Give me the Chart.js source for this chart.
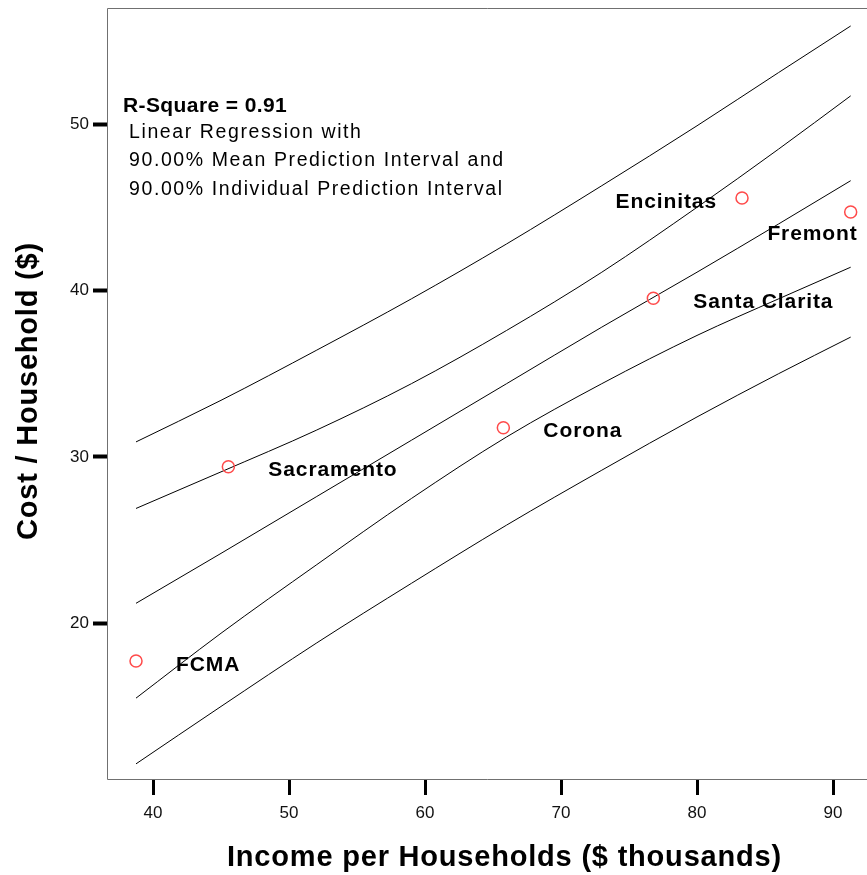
<!DOCTYPE html>
<html>
<head>
<meta charset="utf-8">
<script src="https://cdn.jsdelivr.net/npm/chart.js@4.4.1/dist/chart.umd.min.js"></script>
<style>
  html, body { margin: 0; padding: 0; background: #fff; }
  #wrap { width: 867px; height: 875px; }
</style>
</head>
<body>
<div id="wrap"><canvas id="chart-cost" width="867" height="875"></canvas></div>
<script>
/*
  ==================================================
  ====================== DATA ======================
  ==================================================
*/

let cities = ['FCMA', 'Sacramento', 'Corona', 'Santa Clarita', 'Encinitas', 'Fremont'];
let income = [38.75, 45.54, 65.76, 76.79, 83.31, 91.30];
let cost = [17.73, 29.41, 31.75, 39.53, 45.56, 44.72];

let lineX = [38.75, 45, 52, 59, 66, 73, 80, 86, 91.3];
let upperIndividual = [30.9, 33.4, 36.4, 39.5, 42.8, 46.3, 49.9, 53.1, 55.9];
let upperMean = [26.9, 29.1, 31.6, 34.4, 37.6, 41.1, 45.0, 48.5, 51.7];
let fitLine = [21.2, 24.2, 27.6, 31.0, 34.4, 37.8, 41.1, 44.0, 46.6];
let lowerMean = [15.5, 19.4, 23.5, 27.5, 31.2, 34.4, 37.3, 39.5, 41.4];
let lowerIndividual = [11.55, 15.0, 18.8, 22.4, 25.9, 29.2, 32.4, 35.0, 37.2];

let xTicks = [40, 50, 60, 70, 80, 90];
let yTicks = [20, 30, 40, 50];

let xTitle = 'Income per Households ($ thousands)';
let yTitle = 'Cost / Household ($)';
let noteBold = 'R-Square = 0.91';
let noteLines = [
  'Linear Regression with',
  '90.00% Mean Prediction Interval and',
  '90.00% Individual Prediction Interval'
];

/*
  ==================================================
  ===================== HELPERS =====================
  ==================================================
*/

let toXY = (xs, ys) => xs.map((x, i) => ({ x, y: ys[i] }));

let bandLine = (values) => ({
  type: 'line',
  data: toXY(lineX, values),
  borderColor: '#000',
  borderWidth: 1,
  pointRadius: 0,
  fill: false,
  cubicInterpolationMode: 'monotone'
});

let noPad = s => {
  s.paddingTop = 0;
  s.paddingBottom = 0;
  s.paddingLeft = 0;
  s.paddingRight = 0;
};

// label placement: dx, dy (baseline) relative to the point, alignment
let labelPlace = [
  [40, 10, 'left'],
  [40, 9.5, 'left'],
  [40, 9, 'left'],
  [40, 10, 'left'],
  [-25, 10, 'right'],
  [7, 28, 'right']
];

/*
  ==================================================
  ===================== PLUGIN =====================
  ==================================================
*/

let decorPlugin = {
  id: 'decor',
  afterDatasetsDraw(chart) {
    let { ctx, chartArea: a } = chart;
    let xs = chart.scales.x, ys = chart.scales.y;

    ctx.save();

    /* frame */
    ctx.strokeStyle = '#707070';
    ctx.lineWidth = 1;
    ctx.beginPath();
    ctx.moveTo(a.right + 1, a.top + 0.5);
    ctx.lineTo(a.left - 0.5, a.top + 0.5);
    ctx.lineTo(a.left - 0.5, a.bottom + 0.5);
    ctx.lineTo(a.right + 1, a.bottom + 0.5);
    ctx.stroke();

    /* point labels */
    ctx.fillStyle = '#000';
    ctx.font = 'bold 21px "Liberation Sans", Arial, sans-serif';
    ctx.letterSpacing = '0.9px';
    ctx.textBaseline = 'alphabetic';
    cities.forEach((name, i) => {
      let [dx, dy, align] = labelPlace[i];
      let px = xs.getPixelForValue(income[i]);
      let py = ys.getPixelForValue(cost[i]);
      ctx.textAlign = align;
      ctx.fillText(name, px + dx, py + dy);
    });

    /* note */
    ctx.textAlign = 'left';
    ctx.font = 'bold 21px "Liberation Sans", Arial, sans-serif';
    ctx.letterSpacing = '0.4px';
    ctx.fillText(noteBold, 123, 112);
    ctx.font = '19.5px "Liberation Sans", Arial, sans-serif';
    ctx.letterSpacing = '1.6px';
    noteLines.forEach((t, i) => ctx.fillText(t, 129, 137.5 + i * 28.5));

    /* axis titles */
    ctx.font = 'bold 29px "Liberation Sans", Arial, sans-serif';
    ctx.letterSpacing = '0.8px';
    ctx.fillText(xTitle, 227, 866);

    ctx.translate(37, 540);
    ctx.rotate(-Math.PI / 2);
    ctx.fillText(yTitle, 0, 0);

    ctx.restore();
  }
};

/*
  ==================================================
  ====================== CHART ======================
  ==================================================
*/

let ctxCost = document.getElementById('chart-cost').getContext('2d');

let chartCost = new Chart(ctxCost, {
  type: 'scatter',
  data: {
    datasets: [
      {
        type: 'scatter',
        data: toXY(income, cost),
        pointStyle: 'circle',
        pointRadius: 6,
        pointHoverRadius: 6,
        borderColor: '#ff4a4a',
        backgroundColor: 'rgba(0,0,0,0)',
        borderWidth: 1.5
      },
      bandLine(upperIndividual),
      bandLine(upperMean),
      bandLine(fitLine),
      bandLine(lowerMean),
      bandLine(lowerIndividual)
    ]
  },
  options: {
    responsive: false,
    animation: false,
    events: [],
    layout: { autoPadding: false, padding: { top: 8, left: 0, right: 0, bottom: 0 } },
    plugins: {
      legend: { display: false },
      tooltip: { enabled: false }
    },
    scales: {
      x: {
        type: 'linear',
        min: 36.69,
        max: 92.5,
        afterBuildTicks: s => { s.ticks = xTicks.map(v => ({ value: v })); },
        afterFit: s => { s.height = 96; noPad(s); },
        border: { display: false },
        grid: {
          drawOnChartArea: false,
          drawTicks: true,
          tickLength: 16,
          tickWidth: 3,
          tickColor: '#000'
        },
        ticks: {
          color: '#111',
          padding: 8,
          maxRotation: 0,
          font: { family: '"Liberation Sans", Arial, sans-serif', size: 17 }
        }
      },
      y: {
        type: 'linear',
        min: 10.64,
        max: 56.98,
        afterBuildTicks: s => { s.ticks = yTicks.map(v => ({ value: v })); },
        afterFit: s => { s.width = 108; noPad(s); },
        border: { display: false },
        grid: {
          drawOnChartArea: false,
          drawTicks: true,
          tickLength: 15,
          tickWidth: 4,
          tickColor: '#000'
        },
        ticks: {
          color: '#111',
          padding: 4,
          font: { family: '"Liberation Sans", Arial, sans-serif', size: 17 }
        }
      }
    }
  },
  plugins: [decorPlugin]
});
</script>
</body>
</html>
